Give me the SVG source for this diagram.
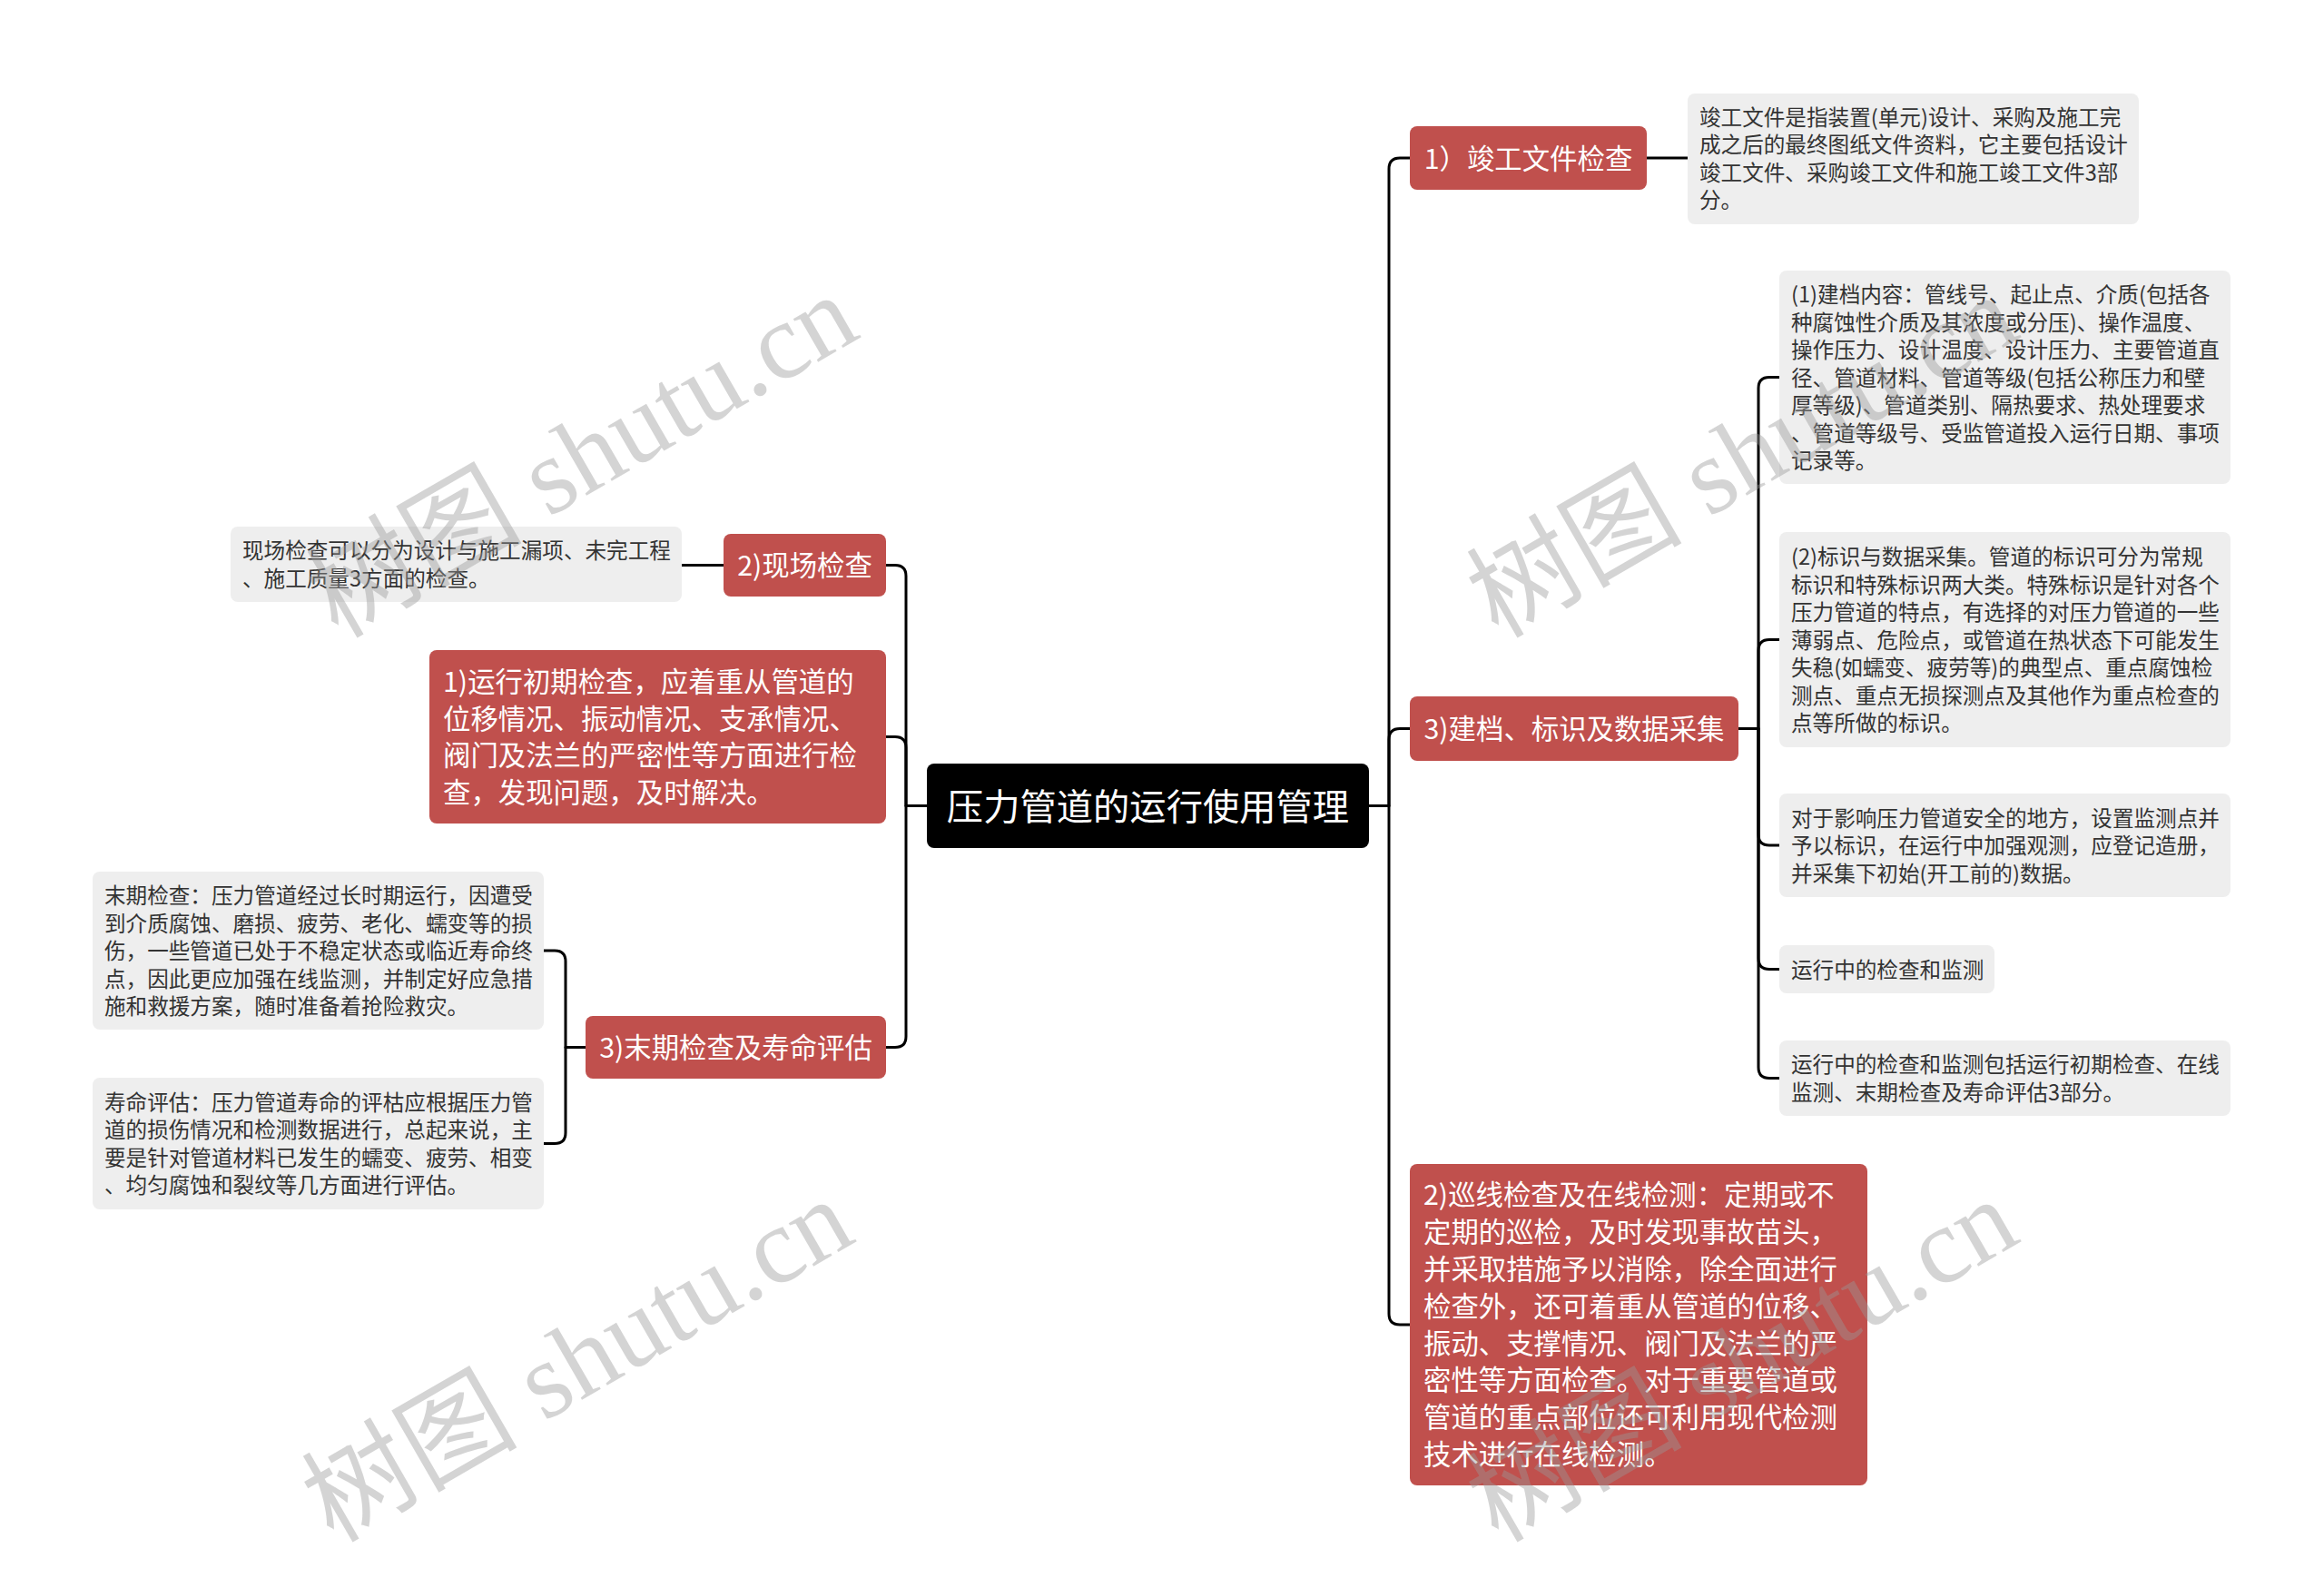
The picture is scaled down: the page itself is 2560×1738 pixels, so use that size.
<svg xmlns="http://www.w3.org/2000/svg" width="2560" height="1738" viewBox="0 0 2560 1738">
<style>
.conn{fill:none;stroke:#000;stroke-width:3;stroke-linejoin:round}
.root rect{fill:#000}
.root text{fill:#fff;font-size:40.3px;text-anchor:middle}
.main rect{fill:#C0504D}
.main text{fill:#fff;font-size:30.4px}
.leaf rect{fill:#EEEEEE}
.leaf text{fill:#333;font-size:23.6px}
text{font-family:"Noto Sans CJK SC","Noto Sans",sans-serif}
.c{text-anchor:middle}
.wm{font-family:"Liberation Serif","Noto Sans CJK SC",serif;font-size:119px;fill:#999;fill-opacity:0.42}
</style>
<rect width="2560" height="1738" fill="#fff"/>
<g id="connectors">
<path class="conn" d="M1508,887.5 H1530 V186 Q1530,174 1542,174 H1553"/>
<path class="conn" d="M1508,887.5 H1530 V814.5 Q1530,802.5 1542,802.5 H1553"/>
<path class="conn" d="M1508,887.5 H1530 V1447 Q1530,1459 1542,1459 H1553"/>
<path class="conn" d="M1021,887.5 H998 V634.5 Q998,622.5 986,622.5 H976"/>
<path class="conn" d="M1021,887.5 H998 V823.5 Q998,811.5 986,811.5 H976"/>
<path class="conn" d="M1021,887.5 H998 V1141.5 Q998,1153.5 986,1153.5 H976"/>
<path class="conn" d="M1814,174 H1859"/>
<path class="conn" d="M797,622.5 H751"/>
<path class="conn" d="M1915,802.5 H1937 V427.5 Q1937,415.5 1949,415.5 H1960"/>
<path class="conn" d="M1915,802.5 H1937 V716.5 Q1937,704.5 1949,704.5 H1960"/>
<path class="conn" d="M1915,802.5 H1937 V919 Q1937,931 1949,931 H1960"/>
<path class="conn" d="M1915,802.5 H1937 V1055.5 Q1937,1067.5 1949,1067.5 H1960"/>
<path class="conn" d="M1915,802.5 H1937 V1175.5 Q1937,1187.5 1949,1187.5 H1960"/>
<path class="conn" d="M645,1153.5 H623 V1059 Q623,1047 611,1047 H599"/>
<path class="conn" d="M645,1153.5 H623 V1247.5 Q623,1259.5 611,1259.5 H599"/>
</g>
<g id="root" class="root">
<rect x="1021" y="841" width="487" height="93" rx="8"/>
<text x="1264.5" y="902.5">压力管道的运行使用管理</text>
</g>
<g id="n-r1" class="main">
<rect x="1553" y="139" width="261" height="70" rx="8"/>
<text class="c" x="1683.5" y="185.5">1）竣工文件检查</text>
</g>
<g id="n-r3" class="main">
<rect x="1553" y="767" width="362" height="71" rx="8"/>
<text class="c" x="1734" y="814">3)建档、标识及数据采集</text>
</g>
<g id="n-r2" class="main">
<rect x="1553" y="1282" width="504" height="354" rx="8"/>
<text x="1568" y="1327.4">2)巡线检查及在线检测：定期或不</text>
<text x="1568" y="1368.2">定期的巡检，及时发现事故苗头，</text>
<text x="1568" y="1409">并采取措施予以消除，除全面进行</text>
<text x="1568" y="1449.8">检查外，还可着重从管道的位移、</text>
<text x="1568" y="1490.6">振动、支撑情况、阀门及法兰的严</text>
<text x="1568" y="1531.4">密性等方面检查。对于重要管道或</text>
<text x="1568" y="1572.2">管道的重点部位还可利用现代检测</text>
<text x="1568" y="1613">技术进行在线检测。</text>
</g>
<g id="n-l2" class="main">
<rect x="797" y="588" width="179" height="69" rx="8"/>
<text class="c" x="886.5" y="634">2)现场检查</text>
</g>
<g id="n-l1" class="main">
<rect x="473" y="716" width="503" height="191" rx="8"/>
<text x="488" y="761.7">1)运行初期检查，应着重从管道的</text>
<text x="488" y="802.5">位移情况、振动情况、支承情况、</text>
<text x="488" y="843.3">阀门及法兰的严密性等方面进行检</text>
<text x="488" y="884.1">查，发现问题，及时解决。</text>
</g>
<g id="n-l3" class="main">
<rect x="645" y="1119" width="331" height="69" rx="8"/>
<text class="c" x="810.5" y="1165">3)末期检查及寿命评估</text>
</g>
<g id="leaf-a" class="leaf">
<rect x="1859" y="103" width="497" height="144" rx="8"/>
<text x="1872" y="137.75">竣工文件是指装置(单元)设计、采购及施工完</text>
<text x="1872" y="168.25">成之后的最终图纸文件资料，它主要包括设计</text>
<text x="1872" y="198.75">竣工文件、采购竣工文件和施工竣工文件3部</text>
<text x="1872" y="229.25">分。</text>
</g>
<g id="leaf-1" class="leaf">
<rect x="1960" y="298" width="497" height="235" rx="8"/>
<text x="1973" y="333">(1)建档内容：管线号、起止点、介质(包括各</text>
<text x="1973" y="363.5">种腐蚀性介质及其浓度或分压)、操作温度、</text>
<text x="1973" y="394">操作压力、设计温度、设计压力、主要管道直</text>
<text x="1973" y="424.5">径、管道材料、管道等级(包括公称压力和壁</text>
<text x="1973" y="455">厚等级)、管道类别、隔热要求、热处理要求</text>
<text x="1973" y="485.5">、管道等级号、受监管道投入运行日期、事项</text>
<text x="1973" y="516">记录等。</text>
</g>
<g id="leaf-2" class="leaf">
<rect x="1960" y="586" width="497" height="237" rx="8"/>
<text x="1973" y="622">(2)标识与数据采集。管道的标识可分为常规</text>
<text x="1973" y="652.5">标识和特殊标识两大类。特殊标识是针对各个</text>
<text x="1973" y="683">压力管道的特点，有选择的对压力管道的一些</text>
<text x="1973" y="713.5">薄弱点、危险点，或管道在热状态下可能发生</text>
<text x="1973" y="744">失稳(如蠕变、疲劳等)的典型点、重点腐蚀检</text>
<text x="1973" y="774.5">测点、重点无损探测点及其他作为重点检查的</text>
<text x="1973" y="805">点等所做的标识。</text>
</g>
<g id="leaf-3" class="leaf">
<rect x="1960" y="874" width="497" height="114" rx="8"/>
<text x="1973" y="909.5">对于影响压力管道安全的地方，设置监测点并</text>
<text x="1973" y="940">予以标识，在运行中加强观测，应登记造册，</text>
<text x="1973" y="970.5">并采集下初始(开工前的)数据。</text>
</g>
<g id="leaf-4" class="leaf">
<rect x="1960" y="1041" width="237" height="53" rx="8"/>
<text x="1973" y="1076.5">运行中的检查和监测</text>
</g>
<g id="leaf-5" class="leaf">
<rect x="1960" y="1146" width="497" height="83" rx="8"/>
<text x="1973" y="1181.25">运行中的检查和监测包括运行初期检查、在线</text>
<text x="1973" y="1211.75">监测、末期检查及寿命评估3部分。</text>
</g>
<g id="leaf-l2" class="leaf">
<rect x="254" y="580" width="497" height="83" rx="8"/>
<text x="267" y="615.25">现场检查可以分为设计与施工漏项、未完工程</text>
<text x="267" y="645.75">、施工质量3方面的检查。</text>
</g>
<g id="leaf-l3a" class="leaf">
<rect x="102" y="960" width="497" height="174" rx="8"/>
<text x="115" y="995">末期检查：压力管道经过长时期运行，因遭受</text>
<text x="115" y="1025.5">到介质腐蚀、磨损、疲劳、老化、蠕变等的损</text>
<text x="115" y="1056">伤，一些管道已处于不稳定状态或临近寿命终</text>
<text x="115" y="1086.5">点，因此更应加强在线监测，并制定好应急措</text>
<text x="115" y="1117">施和救援方案，随时准备着抢险救灾。</text>
</g>
<g id="leaf-l3b" class="leaf">
<rect x="102" y="1187" width="497" height="145" rx="8"/>
<text x="115" y="1222.75">寿命评估：压力管道寿命的评枯应根据压力管</text>
<text x="115" y="1253.25">道的损伤情况和检测数据进行，总起来说，主</text>
<text x="115" y="1283.75">要是针对管道材料已发生的蠕变、疲劳、相变</text>
<text x="115" y="1314.25">、均匀腐蚀和裂纹等几方面进行评估。</text>
</g>
<g id="watermarks">
<text class="wm" transform="translate(372,704) rotate(-30)">树图 shutu.cn</text>
<text class="wm" transform="translate(1650,704) rotate(-30)">树图 shutu.cn</text>
<text class="wm" transform="translate(367,1700) rotate(-30)">树图 shutu.cn</text>
<text class="wm" transform="translate(1650,1700) rotate(-30)">树图 shutu.cn</text>
</g>
</svg>
